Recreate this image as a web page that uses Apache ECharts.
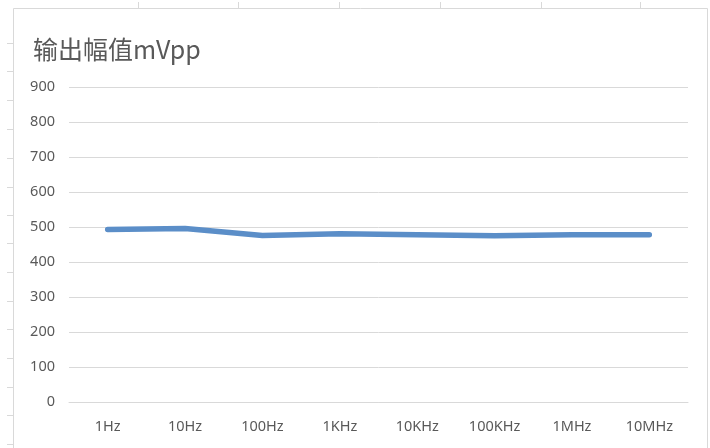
<!DOCTYPE html>
<html><head><meta charset="utf-8">
<script src="https://cdn.jsdelivr.net/npm/echarts@6/dist/echarts.min.js"></script>
<style>html,body{margin:0;padding:0;background:#fff}#c{width:710px;height:448px}</style>
</head><body><div id="c"></div>
<script>
var title = '输出幅值mVpp';
var categories = ['1Hz','10Hz','100Hz','1KHz','10KHz','100KHz','1MHz','10MHz'];
var values = [493, 496, 476, 481, 478, 475, 478, 478];
var yTicks = [0, 100, 200, 300, 400, 500, 600, 700, 800, 900];

var chart = echarts.init(document.getElementById('c'), null, {renderer:'canvas'});
var deco = [];
// chart area border
deco.push({type:'rect', shape:{x:13.5, y:8.5, width:694, height:450}, style:{fill:'none', stroke:'#d9d9d9', lineWidth:1}, silent:true});
// worksheet row/column tick marks outside chart area
[43,71,100,129,158,187,215,243,272,301,329,358,387,415,444].forEach(function(y){
  deco.push({type:'line', shape:{x1:7, y1:y+0.5, x2:13, y2:y+0.5}, style:{stroke:'#d9d9d9', lineWidth:1}, silent:true});
});
[138,238,339,440,541,640].forEach(function(x){
  deco.push({type:'line', shape:{x1:x+0.5, y1:2, x2:x+0.5, y2:8}, style:{stroke:'#d9d9d9', lineWidth:1}, silent:true});
});
chart.setOption({
  animation:false,
  backgroundColor:'#fff',
  title:{text:title, left:28, top:32, textStyle:{fontFamily:'Noto Sans CJK SC', fontWeight:'normal', fontSize:25, color:'#595959'}},
  grid:{left:69, right:22, top:87, bottom:46, containLabel:false},
  xAxis:{type:'category', data:categories, boundaryGap:true,
    axisLine:{show:true, lineStyle:{color:'#d9d9d9', width:1}}, axisTick:{show:false},
    axisLabel:{color:'#595959', fontSize:14.5, fontFamily:'Noto Sans', margin:17}},
  yAxis:{type:'value', min:yTicks[0], max:yTicks[yTicks.length-1], interval:100,
    axisLine:{show:false}, axisTick:{show:false},
    axisLabel:{color:'#595959', fontSize:14.5, fontFamily:'Noto Sans', margin:14}},
  series:[{type:'line', data:values, showSymbol:false, symbol:'none',
    lineStyle:{color:'#5b8ec8', width:5.5, cap:'round', join:'round'}}],
  graphic:deco
});
chart.setOption({yAxis:{splitLine:{lineStyle:{color:'#d9d9d9', width:1}}}});
</script></body></html>
